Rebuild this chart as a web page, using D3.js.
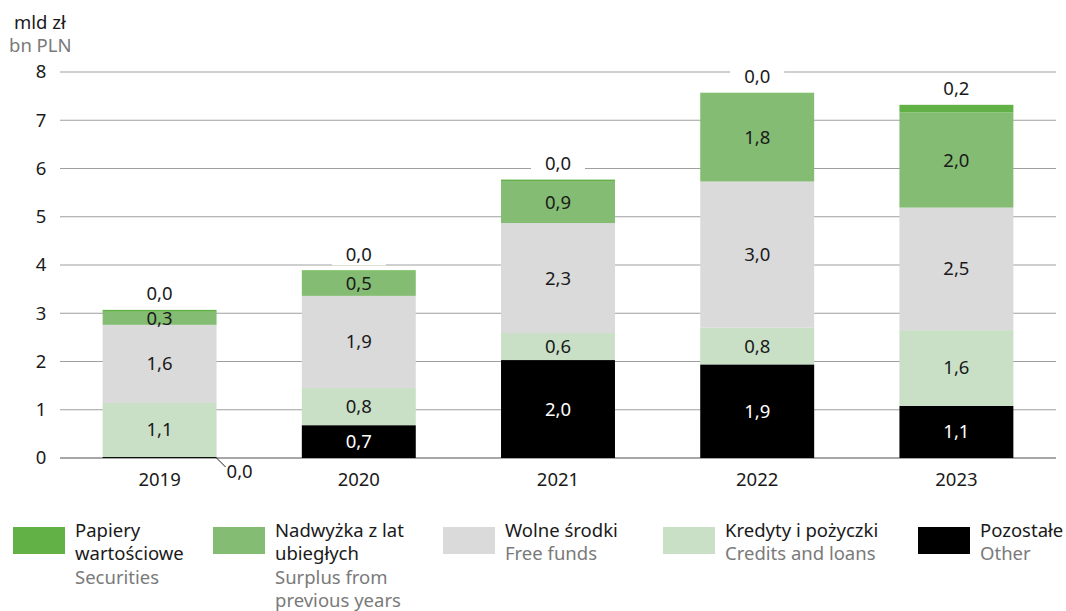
<!DOCTYPE html>
<html><head><meta charset="utf-8">
<script src="https://cdn.jsdelivr.net/npm/d3@7"></script>
<style>body{margin:0;background:#fff}svg{display:block}text{font-family:"Noto Sans",sans-serif}</style>
</head><body><svg id="c" width="1066" height="611"></svg>
<script>
const years = ["2019","2020","2021","2022","2023"];
const pozostale = [0.02, 0.68, 2.03, 1.94, 1.08];
const kredyty   = [1.12, 0.77, 0.56, 0.76, 1.57];
const wolne     = [1.62, 1.91, 2.28, 3.03, 2.54];
const nadwyzka  = [0.27, 0.50, 0.87, 1.82, 1.97];
const papiery   = [0.04, 0.03, 0.03, 0.02, 0.16];
const yTicks = [0,1,2,3,4,5,6,7,8];
const seriesNames = ["Pozostałe","Kredyty i pożyczki","Wolne środki","Nadwyżka z lat ubiegłych","Papiery wartościowe"];
const legendPL = [["Papiery","wartościowe"],["Nadwyżka z lat","ubiegłych"],["Wolne środki"],["Kredyty i pożyczki"],["Pozostałe"]];
const legendEN = [["Securities"],["Surplus from","previous years"],["Free funds"],["Credits and loans"],["Other"]];

const colors = {"Pozostałe":"#000000","Kredyty i pożyczki":"#c9e0c7","Wolne środki":"#dadada","Nadwyżka z lat ubiegłych":"#84bc73","Papiery wartościowe":"#62b146"};
const textCol = {"Pozostałe":"#ffffff"};
const FS = 18.5;

const svg = d3.select("#c");
const x = d3.scaleBand().domain(years).range([60,1056]).paddingInner(0.428).paddingOuter(0.214);
const y = d3.scaleLinear().domain([0,8]).range([458,72]);
const fmt = v => d3.format(".1f")(v).replace(".", ",");

// gridlines
svg.append("g").selectAll("line").data(yTicks).join("line")
  .attr("x1",60).attr("x2",1056).attr("y1",d=>y(d)).attr("y2",d=>y(d))
  .attr("stroke",d=>d===0?"#8a8a8a":"#9f9f9f").attr("stroke-width",d=>d===0?1.5:1.2);
svg.append("g").selectAll("text").data(yTicks).join("text")
  .attr("x",41).attr("y",d=>y(d)).attr("dy","0.35em").attr("text-anchor","middle")
  .attr("font-size",FS).attr("fill","#1a1a1a").text(d=>d);

svg.append("text").attr("x",14).attr("y",29).attr("font-size",FS).attr("fill","#1a1a1a").text("mld zł");
svg.append("text").attr("x",9).attr("y",52).attr("font-size",FS).attr("fill","#7a7a7a").text("bn PLN");

const rows = years.map((yr,i)=>({year:yr,"Pozostałe":pozostale[i],"Kredyty i pożyczki":kredyty[i],"Wolne środki":wolne[i],"Nadwyżka z lat ubiegłych":nadwyzka[i],"Papiery wartościowe":papiery[i]}));
const stacked = d3.stack().keys(seriesNames)(rows);

const g = svg.append("g");
stacked.forEach(s=>{
  g.append("g").selectAll("rect").data(s).join("rect")
    .attr("x",d=>x(d.data.year)).attr("width",x.bandwidth())
    .attr("y",d=>y(d[1])).attr("height",d=>y(d[0])-y(d[1]))
    .attr("fill",colors[s.key]);
});
// labels inside
stacked.forEach(s=>{
  if (s.key==="Papiery wartościowe") return;
  g.append("g").selectAll("text").data(s.filter(d=>d[1]-d[0]>0.1)).join("text")
    .attr("x",d=>x(d.data.year)+x.bandwidth()/2).attr("y",d=>y((d[0]+d[1])/2)).attr("dy","0.35em")
    .attr("text-anchor","middle").attr("font-size",FS).attr("fill",textCol[s.key]||"#1a1a1a")
    .text(d=>fmt(d[1]-d[0]));
});
// top labels (Papiery)
const topSeries = stacked[stacked.length-1];
topSeries.forEach(d=>{
  const cx = x(d.data.year)+x.bandwidth()/2, cy = y(d[1])-16;
  g.append("rect").attr("x",cx-27).attr("y",cy-11).attr("width",54).attr("height",22).attr("fill","#fff");
  g.append("text").attr("x",cx).attr("y",cy).attr("dy","0.35em").attr("text-anchor","middle")
    .attr("font-size",FS).attr("fill","#1a1a1a").text(fmt(d[1]-d[0]));
});
// 2019 Pozostałe leader label
const p0 = stacked[0][0];
const px = x(years[0])+x.bandwidth();
g.append("line").attr("x1",px).attr("y1",y(0)).attr("x2",px+9).attr("y2",y(0)+9).attr("stroke","#1a1a1a").attr("stroke-width",1);
g.append("text").attr("x",px+10).attr("y",y(0)+14).attr("dy","0.35em").attr("font-size",FS).attr("fill","#1a1a1a").text(fmt(p0[1]-p0[0]));

// x axis labels
svg.append("g").selectAll("text").data(years).join("text")
  .attr("x",d=>x(d)+x.bandwidth()/2).attr("y",480).attr("dy","0.35em").attr("text-anchor","middle")
  .attr("font-size",FS).attr("fill","#1a1a1a").text(d=>d);

// legend
const legendKeys = ["Papiery wartościowe","Nadwyżka z lat ubiegłych","Wolne środki","Kredyty i pożyczki","Pozostałe"];
const lx = [13,213,443,663,918];
legendKeys.forEach((k,i)=>{
  const lg = svg.append("g").attr("transform",`translate(${lx[i]},0)`);
  lg.append("rect").attr("x",0).attr("y",527).attr("width",52).attr("height",27).attr("fill",colors[k]);
  const lines = legendPL[i].map(t=>({t,c:"#1a1a1a"})).concat(legendEN[i].map(t=>({t,c:"#7a7a7a"})));
  lines.forEach((ln,j)=>{
    lg.append("text").attr("x",62).attr("y",537+j*23.3).attr("font-size",FS).attr("fill",ln.c).text(ln.t);
  });
});
</script></body></html>
